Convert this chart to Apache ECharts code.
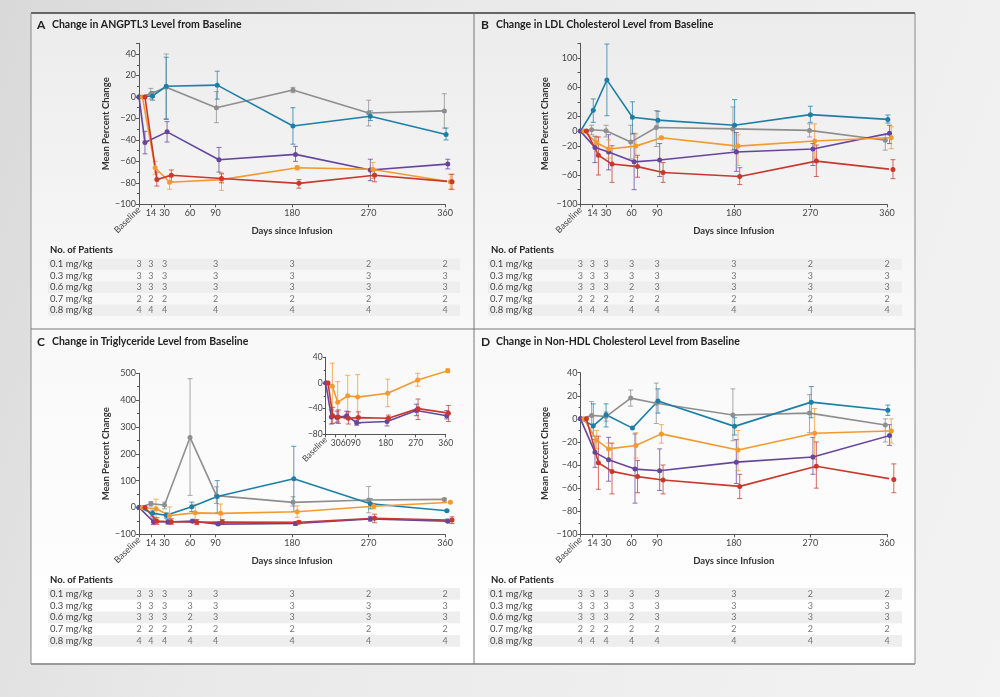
<!DOCTYPE html>
<html>
<head>
<meta charset="utf-8">
<script src="https://cdn.jsdelivr.net/npm/echarts@6/dist/echarts.min.js"></script>
<style>
html, body { margin: 0; padding: 0; width: 1000px; height: 697px; overflow: hidden;
  background: linear-gradient(110deg, #d9d9d9 0%, #e9e9e9 35%, #f3f3f3 100%); }
#chart { width: 1000px; height: 697px; }
</style>
</head>
<body>
<div id="chart"></div>
<script>
'use strict';

var doses = ['0.1 mg/kg', '0.3 mg/kg', '0.6 mg/kg', '0.7 mg/kg', '0.8 mg/kg'];
var doseColors = ['#8e8e8e', '#1d7fa8', '#66459d', '#f39a2f', '#c8382d'];
var tickDays = [14, 30, 60, 90, 180, 270, 360];
var insetTickDays = [30, 60, 90, 180, 270, 360];

// A - ANGPTL3 (per dose: 0.1, 0.3, 0.6, 0.7, 0.8)
var angDays = [
  [0, 14, 32, 91, 181, 270, 359],
  [0, 16, 32, 92, 181, 272, 361],
  [0, 7, 33, 94, 184, 272, 363],
  [4, 19, 36, 97, 186, 275, 366],
  [7, 21, 38, 97, 188, 277, 368]
];
var angMean = [
  [0, 3, 9, -10, 6.5, -15, -13],
  [0, 1, 10, 11, -27, -18, -35],
  [0, -42.5, -32.5, -58.5, -53.5, -68, -62.5],
  [0, -66, -79.5, -77, -66, -67.5, -79],
  [0, -77, -73, -76, -80.5, -73, -79]
];
var angLow = [
  [0, -2, -20, -24, 4, -27, -29],
  [0, -3, -21, -2, -44, -22, -40],
  [0, -53, -42, -70, -60, -78, -67],
  [0, -72, -86, -87, -68, -76, -86],
  [0, -83, -79, -80, -85, -79, -86]
];
var angHigh = [
  [0, 8, 40, 5, 9, -3, 3],
  [0, 5, 37, 24, -10, -13, -29],
  [0, -32, -23, -47, -46, -58, -58],
  [0, -60, -73, -72, -64, -61, -72],
  [0, -70, -68, -71, -77, -68, -72]
];

// B - LDL cholesterol
var ldlDays = [
  [0, 13, 30, 59, 89, 179, 269, 358],
  [0, 15, 31, 61, 91, 181, 270, 361],
  [0, 17, 33, 63, 93, 183, 273, 363],
  [4, 19, 33, 65, 95, 185, 275, 365],
  [7, 21, 37, 67, 97, 187, 277, 367]
];
var ldlMean = [
  [0, 1.8, 0.5, -15, 5, 3, 1, -12.5],
  [0, 28.5, 70, 19, 15, 8, 22.5, 16],
  [0, -22.5, -28.5, -42, -39.5, -28.5, -24.5, -3],
  [0, -16, -24.5, -20.5, -9, -20.5, -13.5, -9],
  [0, -33, -45, -48.5, -56.5, -62, -41, -52.5]
];
var ldlLow = [
  [0, -5, -8, -38, -21, -26, -8, -26],
  [0, 12, 21, -4, 5, -25, 12, 11],
  [0, -43, -53, -80, -62, -55, -47, -17],
  [0, -24, -37, -36, -11, -47, -37, -24],
  [0, -60, -70, -63, -70, -73, -62, -65]
];
var ldlHigh = [
  [0, 8, 8, 8, 28, 33, 10, -5],
  [0, 44, 119, 40, 27, 43, 34, 22],
  [0, -7, -5, -3, -17, -2, -17, 8],
  [0, -8, -12, -4, -7, -5, 10, 6],
  [0, -8, -20, -33, -43, -50, -19, -39]
];

// C - Triglycerides
var tgDays = [
  [0, 14, 30, 60, 91, 181, 270, 359],
  [0, 16, 32, 62, 92, 182, 272, 362],
  [0, 17, 34, 63, 93, 184, 272, 363],
  [4, 20, 36, 66, 96, 186, 276, 366],
  [7, 21, 38, 68, 98, 188, 277, 368]
];
var tgMean = [
  [0, 14, 9, 261, 44, 19, 28, 30],
  [0, -22, -29, 3, 41, 107, 14, -12],
  [0, -53, -54, -51, -62, -60, -43, -51],
  [0, -5, -30, -20, -22, -16, 4.5, 19],
  [0, -51, -53, -55, -54, -55, -40, -47]
];
var tgLow = [
  [0, 5, -5, 45, 15, 5, -20, 25],
  [0, -35, -40, -15, -20, -15, -5, -15],
  [0, -64, -62, -56, -66, -67, -51, -56],
  [0, -50, -60, -45, -52, -37, -5, 16],
  [0, -63, -63, -64, -63, -58, -57, -60]
];
var tgHigh = [
  [0, 22, 20, 480, 77, 40, 78, 35],
  [0, -10, -20, 20, 100, 228, 33, -9],
  [0, -42, -44, -44, -58, -55, -33, -43],
  [0, 31, 2, 12, 13, 6, 15, 22],
  [0, -38, -42, -45, -45, -50, -25, -35]
];

// D - Non-HDL cholesterol
var nhDays = [
  [0, 13, 30, 59, 89, 179, 269, 358],
  [0, 15, 30, 61, 91, 181, 271, 361],
  [0, 17, 33, 64, 93, 183, 273, 363],
  [4, 19, 33, 65, 95, 185, 275, 365],
  [7, 21, 37, 67, 97, 187, 277, 368]
];
var nhMean = [
  [0, 3, 2, 18, 13.5, 3.3, 5, -5.3],
  [0, -6, 3.5, -8, 15.5, -6.5, 14.5, 7.5],
  [0, -29, -35.5, -43.5, -45, -37.5, -33, -14.5],
  [0, -18.5, -26, -23, -13, -27, -12.5, -10.5],
  [0, -38, -45.5, -50, -53, -58.5, -41, -52.5]
];
var nhLow = [
  [0, -8, -2, 11, -4, -19, -12, -20],
  [0, -15, -7, -8, 5, -14, 1, 3],
  [0, -42, -54, -73, -62, -56, -48, -23],
  [0, -26, -36, -34, -21, -45, -35, -21],
  [0, -61, -65, -64, -65, -69, -60, -64]
];
var nhHigh = [
  [0, 15, 6, 25, 31, 26, 21, 0],
  [0, 13, 13, -8, 26, 1, 28, 12],
  [0, -18, -16, -13, -26, -18, -16, -5],
  [0, -10, -21, -12, -5, -10, 9, 0],
  [0, -15, -21, -36, -40, -48, -20, -39]
];

// No. of patients
var countDaysA = [0, 14, 30, 90, 180, 270, 360];
var countsA = [
  [3, 3, 3, 3, 3, 2, 2],
  [3, 3, 3, 3, 3, 3, 3],
  [3, 3, 3, 3, 3, 3, 3],
  [2, 2, 2, 2, 2, 2, 2],
  [4, 4, 4, 4, 4, 4, 4]
];
var countDays = [0, 14, 30, 60, 90, 180, 270, 360];
var countsBCD = [
  [3, 3, 3, 3, 3, 3, 2, 2],
  [3, 3, 3, 3, 3, 3, 3, 3],
  [3, 3, 3, 2, 3, 3, 3, 3],
  [2, 2, 2, 2, 2, 2, 2, 2],
  [4, 4, 4, 4, 4, 4, 4, 4]
];

var FONT = 'Lato, "Open Sans", sans-serif';
var grids = [], xAxes = [], yAxes = [], series = [];

function minus(v) {
  return String(v).replace('-', '\u2212');
}

function errorBar(params, api) {
  var lo = api.value(1), hi = api.value(2);
  if (lo === hi) return;
  var top = api.coord([api.value(0), hi]);
  var bot = api.coord([api.value(0), lo]);
  var st = { stroke: api.visual('color'), lineWidth: 1, opacity: 0.75 };
  return {
    type: 'group',
    children: [
      { type: 'line', shape: { x1: top[0], y1: top[1], x2: bot[0], y2: bot[1] }, style: st },
      { type: 'line', shape: { x1: top[0] - 2.5, y1: top[1], x2: top[0] + 2.5, y2: top[1] }, style: st },
      { type: 'line', shape: { x1: bot[0] - 2.5, y1: bot[1], x2: bot[0] + 2.5, y2: bot[1] }, style: st }
    ]
  };
}

function addPlot(box, yOpt, days, mean, low, high, which, inset) {
  var g = grids.length;
  var fs = inset ? 8.5 : 9;
  grids.push({ left: box[0], top: box[1], width: box[2], height: box[3] });
  var xi = xAxes.length;
  xAxes.push({
    gridIndex: g, type: 'value', min: 0, max: 360,
    axisLine: { onZero: false, lineStyle: { color: '#555', width: 1 } },
    axisTick: { customValues: [0].concat(inset ? insetTickDays : tickDays), length: 3, lineStyle: { color: '#555' } },
    axisLabel: { customValues: inset ? insetTickDays : tickDays, fontSize: fs, color: '#444', margin: 4,
      fontFamily: FONT, hideOverlap: false },
    splitLine: { show: false },
    name: inset ? '' : 'Days since Infusion', nameLocation: 'middle', nameGap: 22,
    nameTextStyle: { fontSize: 9.5, fontWeight: 'bold', color: '#333', fontFamily: FONT }
  });
  xAxes.push({
    gridIndex: g, type: 'value', min: 0, max: 360, position: 'bottom',
    axisLine: { show: false, onZero: false }, axisTick: { show: false }, splitLine: { show: false },
    axisLabel: { customValues: [0], formatter: function () { return 'Baseline'; }, rotate: 45,
      fontSize: fs, color: '#444', margin: 4, fontFamily: FONT }
  });
  var yi = yAxes.length;
  yAxes.push({
    gridIndex: g, type: 'value', min: yOpt.min, max: yOpt.max, interval: yOpt.interval,
    axisLine: { show: true, onZero: false, lineStyle: { color: '#555', width: 1 } },
    axisTick: { show: true, length: 3, lineStyle: { color: '#555' } },
    minorTick: { show: yOpt.minor, splitNumber: 2, length: 2, lineStyle: { color: '#555' } },
    splitLine: { show: false },
    axisLabel: { fontSize: fs, color: '#444', margin: 3, fontFamily: FONT,
      formatter: function (v) { return yOpt.labels.indexOf(v) >= 0 ? minus(v) : ''; } },
    name: inset ? '' : 'Mean Percent Change', nameLocation: 'middle', nameGap: yOpt.nameGap,
    nameTextStyle: { fontSize: 9.5, fontWeight: 'bold', color: '#333', fontFamily: FONT }
  });
  which.forEach(function (k, n) {
    var pts = days[k].map(function (d, j) { return [d, mean[k][j]]; });
    var s = {
      type: 'line', name: doses[k], xAxisIndex: xi, yAxisIndex: yi, data: pts,
      symbol: 'circle', symbolSize: 5, clip: false, z: 4,
      itemStyle: { color: doseColors[k] },
      lineStyle: { width: 1.6, color: doseColors[k] }
    };
    if (n === 0) {
      s.markLine = {
        silent: true, symbol: 'none', label: { show: false },
        lineStyle: { type: [4, 3], color: '#999', width: 1 },
        data: [[{ coord: [0, 0] }, { coord: [inset ? 368 : 375, 0] }]]
      };
    }
    series.push(s);
    series.push({
      type: 'custom', name: doses[k], xAxisIndex: xi, yAxisIndex: yi, z: 3,
      itemStyle: { color: doseColors[k] },
      renderItem: errorBar,
      encode: { x: 0, y: [1, 2] },
      data: days[k].map(function (d, j) { return [d, low[k][j], high[k][j]]; })
    });
  });
}

function addTable(box, xMin, xMax, days, counts) {
  var g = grids.length;
  grids.push({ left: box[0], top: box[1], width: box[2], height: box[3] });
  var xi = xAxes.length, yi = yAxes.length;
  xAxes.push({ gridIndex: g, type: 'value', min: xMin, max: xMax, show: false });
  yAxes.push({
    gridIndex: g, type: 'category', inverse: true, data: doses,
    axisLine: { show: false }, axisTick: { show: false },
    axisLabel: { inside: true, interval: 0, margin: 2, fontSize: 9.5, color: '#444', fontFamily: FONT },
    splitArea: { show: true, interval: 0, areaStyle: { color: ['#eeeeee', 'rgba(255,255,255,0)'] } }
  });
  var pts = [];
  counts.forEach(function (row, i) {
    row.forEach(function (c, j) { pts.push([days[j], i, c]); });
  });
  series.push({
    type: 'scatter', xAxisIndex: xi, yAxisIndex: yi, symbolSize: 0, silent: true,
    label: { show: true, position: 'inside', fontSize: 9, color: '#555', fontFamily: FONT,
      formatter: function (p) { return p.value[2]; } },
    data: pts
  });
}

var all = [0, 1, 2, 3, 4];
var ten = [-100, -80, -60, -40, -20, 0, 20, 40];

addPlot([139, 43.3, 306.2, 161], { min: -100, max: 50, interval: 20, minor: true, labels: ten, nameGap: 27 },
  angDays, angMean, angLow, angHigh, all);
addPlot([580.5, 43.3, 306.5, 161], { min: -100, max: 120, interval: 20, minor: false,
  labels: [-100, -60, -20, 0, 20, 60, 100], nameGap: 31 },
  ldlDays, ldlMean, ldlLow, ldlHigh, all);
addPlot([139, 373.3, 306.2, 161], { min: -100, max: 500, interval: 100, minor: true,
  labels: [-100, 0, 100, 200, 300, 400, 500], nameGap: 27 },
  tgDays, tgMean, tgLow, tgHigh, all);
addPlot([580.5, 372.7, 306.5, 161.6], { min: -100, max: 40, interval: 20, minor: true, labels: ten, nameGap: 31 },
  nhDays, nhMean, nhLow, nhHigh, all);
// inset of panel C: higher doses only
addPlot([325.7, 357.3, 120, 77], { min: -80, max: 40, interval: 40, minor: true, labels: [-80, -40, 0, 40], nameGap: 0 },
  tgDays, tgMean, tgLow, tgHigh, [3, 2, 4], true);

addTable([48, 258.5, 412, 57.5], -107, 377.4, countDaysA, countsA);
addTable([488, 258.5, 414, 57.5], -108.6, 377.6, countDays, countsBCD);
addTable([48, 588, 412, 58.75], -107, 377.4, countDays, countsBCD);
addTable([488, 588, 414, 58.75], -108.6, 377.6, countDays, countsBCD);

function txt(x, y, s, font, color) {
  return { type: 'text', x: x, y: y, silent: true,
    style: { text: s, font: font, fill: color || '#222', verticalAlign: 'middle' } };
}
function ln(x1, y1, x2, y2, w, c) {
  return { type: 'line', silent: true, z: 1, shape: { x1: x1, y1: y1, x2: x2, y2: y2 }, style: { stroke: c, lineWidth: w } };
}

var titleFont = 'bold 10.5px ' + FONT;
var letterFont = 'bold 12px ' + FONT;
var graphics = [
  { type: 'rect', z: -10, silent: true, shape: { x: 31, y: 13, width: 884, height: 651 },
    style: { fill: new echarts.graphic.LinearGradient(0, 0, 0, 1, [
      { offset: 0, color: '#ececec' }, { offset: 0.45, color: '#f8f8f8' }, { offset: 1, color: '#ffffff' }]) } },
  ln(31, 13, 915, 13, 2, '#666'),
  ln(31, 13, 31, 664, 1, '#888'),
  ln(915, 13, 915, 664, 1, '#888'),
  ln(31, 664, 915, 664, 2, '#9a9a9a'),
  ln(474, 13, 474, 664, 1, '#777'),
  ln(31, 329, 915, 329, 1, '#777'),
  txt(37, 25, 'A', letterFont), txt(52, 25, 'Change in ANGPTL3 Level from Baseline', titleFont),
  txt(481, 25, 'B', letterFont), txt(496, 25, 'Change in LDL Cholesterol Level from Baseline', titleFont),
  txt(37, 342, 'C', letterFont), txt(52, 342, 'Change in Triglyceride Level from Baseline', titleFont),
  txt(481, 342, 'D', letterFont), txt(496, 342, 'Change in Non-HDL Cholesterol Level from Baseline', titleFont),
  txt(50, 250, 'No. of Patients', 'bold 9.5px ' + FONT),
  txt(491, 250, 'No. of Patients', 'bold 9.5px ' + FONT),
  txt(50, 580, 'No. of Patients', 'bold 9.5px ' + FONT),
  txt(491, 580, 'No. of Patients', 'bold 9.5px ' + FONT)
];

var chart = echarts.init(document.getElementById('chart'));
chart.setOption({
  animation: false,
  backgroundColor: 'transparent',
  textStyle: { fontFamily: FONT },
  graphic: { elements: graphics },
  grid: grids,
  xAxis: xAxes,
  yAxis: yAxes,
  series: series
});
</script>
</body>
</html>
